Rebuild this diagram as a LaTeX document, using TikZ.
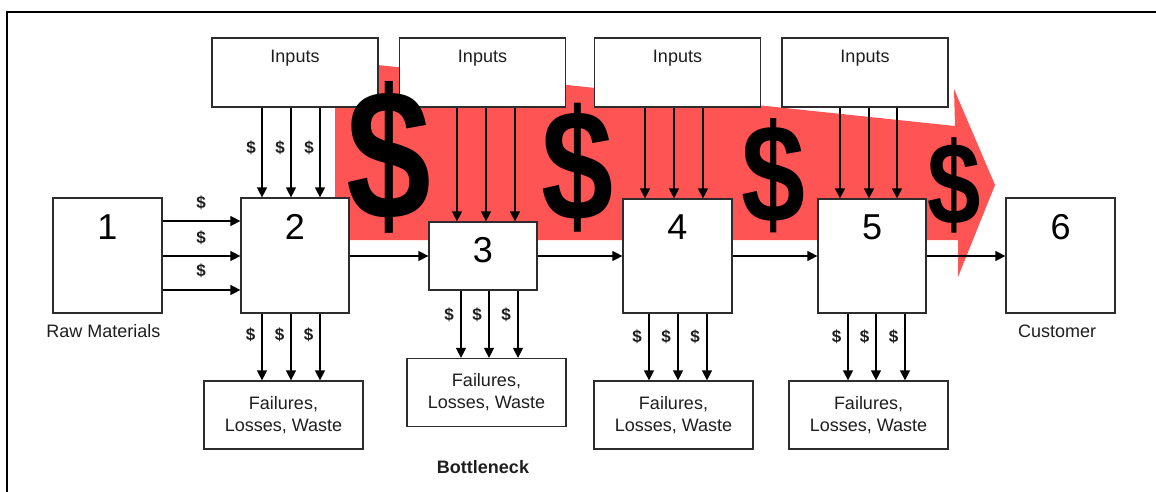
\documentclass[tikz,border=0pt]{standalone}
\usepackage{fontspec}
\setmainfont{Liberation Sans}
\usetikzlibrary{arrows.meta,calc}
\definecolor{flowred}{RGB}{255,84,84}
\definecolor{ink}{RGB}{30,30,30}
\definecolor{edge}{RGB}{45,45,45}
\begin{document}
\begin{tikzpicture}[x=1pt,y=-1pt,
  box/.style={draw=edge,line width=1.2pt,fill=white,inner sep=0pt},
  stagebox/.style={box,minimum width=108pt,minimum height=115pt},
  inbox/.style={box,minimum width=166pt,minimum height=69pt},
  wastebox/.style={box,minimum width=159pt,minimum height=68pt,align=center,
    text=ink,font=\fontsize{18}{22}\selectfont},
  lbl/.style={inner sep=0pt,text=ink,font=\fontsize{18}{22}\selectfont},
  num/.style={inner sep=0pt,anchor=base,text=black,font=\fontsize{36}{40}\selectfont},
  cash/.style={inner sep=0pt,text=ink,font=\fontsize{17}{19}\selectfont\bfseries},
  bigcash/.style={inner sep=0pt,anchor=center,text=black,xscale=0.82,
    font=\fontsize{#1}{#1}\selectfont\bfseries},
  flow/.style={draw=black,line width=1.2pt,-{Triangle[length=10pt,width=10pt]}}
]
\useasboundingbox (0,0) rectangle (1156,492);

% frame
\draw[line width=2pt,line cap=rect] (7,492) -- (7,12) -- (1156,12);

% broad money arrow behind the process
\fill[flowred] (335,60.5) -- (955,126) -- (954,89) -- (995,185)
  -- (958,277) -- (958,240) -- (335,240) -- cycle;

% process stages
\node[stagebox,minimum width=109pt] (b1) at (107.5,255.5) {};
\node[stagebox] (b2) at (295,255.5) {};
\node[box,minimum width=108pt,minimum height=68pt] (b3) at (483,256) {};
\node[stagebox,minimum width=109pt,minimum height=114pt] (b4) at (677.5,256) {};
\node[stagebox,minimum height=114pt] (b5) at (872,256) {};
\node[stagebox,minimum width=109pt] (b6) at (1060.5,255.5) {};

\node[num] (n1) at ([yshift=-42pt]b1.north) {1};
\node[num] (n2) at ([yshift=-42pt]b2.north) {2};
\node[num] (n3) at ([yshift=-41pt]b3.north) {3};
\node[num] (n4) at ([yshift=-41pt]b4.north) {4};
\node[num] (n5) at ([yshift=-41pt]b5.north) {5};
\node[num] (n6) at ([yshift=-42pt]b6.north) {6};

% input boxes
\node[inbox] (in1) at (295,72.5) {};
\node[inbox] (in2) at (482.5,72.5) {};
\node[inbox] (in3) at (677.5,72.5) {};
\node[inbox] (in4) at (865,72.5) {};
\foreach \k in {1,2,3,4}
  \node[lbl,anchor=base] (tin\k) at ([yshift=-25pt]in\k.north) {Inputs};

% waste boxes
\node[wastebox] (f1) at (283.5,415) {Failures,\\Losses, Waste};
\node[wastebox] (f2) at (486.5,392.5) {Failures,\\Losses, Waste};
\node[wastebox] (f3) at (673.5,415) {Failures,\\Losses, Waste};
\node[wastebox] (f4) at (868.5,415) {Failures,\\Losses, Waste};

% captions
\node[lbl,anchor=base] (raw) at (103.5,337) {Raw Materials};
\node[lbl,anchor=base] (cust) at (1057,337) {Customer};
\node[lbl,anchor=base,font=\fontsize{18}{22}\selectfont\bfseries] (neck) at (483,473) {Bottleneck};

% raw materials into stage 2
\foreach \y/\ly in {221/203,256/238,290/271} {
  \coordinate (h\y) at (0,\y);
  \draw[flow] (b1.east |- h\y) -- (b2.west |- h\y);
  \node[cash] (rc\y) at (201,\ly) {\$};
}

% inputs into stages
\foreach \x in {262,291,320} {
  \coordinate (v\x) at (\x,0);
  \draw[flow] (in1.south -| v\x) -- (b2.north -| v\x);
  \node[cash] (ic\x) at (\x-11,148) {\$};
  \draw[flow] (b2.south -| v\x) -- (f1.north -| v\x);
  \node[cash] (wc\x) at (\x-11.5,335) {\$};
}
\foreach \x in {457,486,515} {
  \coordinate (v\x) at (\x,0);
  \draw[flow] (in2.south -| v\x) -- (b3.north -| v\x);
}
\foreach \x in {461,489,518} {
  \coordinate (w\x) at (\x,0);
  \draw[flow] (b3.south -| w\x) -- (f2.north -| w\x);
  \node[cash] (wc\x) at (\x-12,315) {\$};
}
\foreach \x in {645,674,703} {
  \coordinate (v\x) at (\x,0);
  \draw[flow] (in3.south -| v\x) -- (b4.north -| v\x);
}
\foreach \x in {649,678,707} {
  \coordinate (w\x) at (\x,0);
  \draw[flow] (b4.south -| w\x) -- (f3.north -| w\x);
  \node[cash] (wc\x) at (\x-12,337) {\$};
}
\foreach \x in {840,869,897} {
  \coordinate (v\x) at (\x,0);
  \draw[flow] (in4.south -| v\x) -- (b5.north -| v\x);
}
\foreach \x in {848,876,905} {
  \coordinate (w\x) at (\x,0);
  \draw[flow] (b5.south -| w\x) -- (f4.north -| w\x);
  \node[cash] (wc\x) at (\x-11.5,337) {\$};
}

% flow between stages
\draw[flow] (b2.east |- b3.west) -- (b3.west);
\draw[flow] (b3.east) -- (b4.west |- b3.east);
\draw[flow] (b4.east) -- (b5.west);
\draw[flow] (b5.east) -- (b6.west |- b5.east);

% money signs riding on the arrow
\node[bigcash=186] (m1) at (389,157.5) {\$};
\node[bigcash=158] (m2) at (578,168) {\$};
\node[bigcash=140] (m3) at (773,175.5) {\$};
\node[bigcash=117] (m4) at (954,185) {\$};
\end{tikzpicture}
\end{document}
